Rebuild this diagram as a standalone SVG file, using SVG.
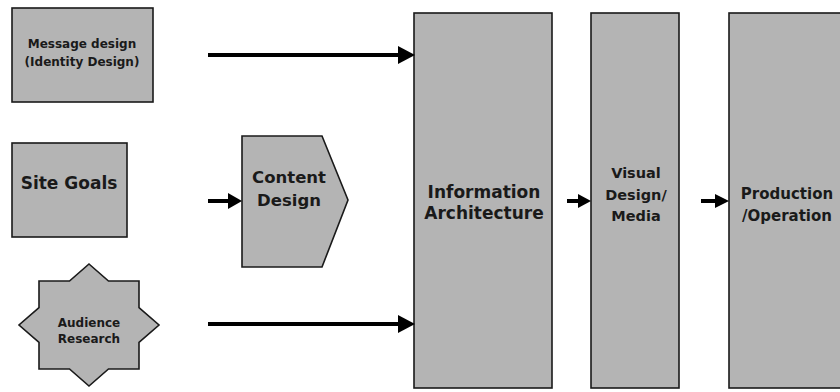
<svg xmlns="http://www.w3.org/2000/svg" width="840" height="392" viewBox="0 0 840 392">
<defs>
<style>
.box{fill:#b4b4b4;stroke:#1a1a1a;stroke-width:1.6}
.t{font-family:"DejaVu Sans",Verdana,sans-serif;font-weight:bold;fill:#1a1a1a;text-anchor:middle}
.conn line{stroke:#000;stroke-width:4}
.conn polygon{fill:#000}
</style>
</defs>
<rect width="840" height="392" fill="#ffffff"/>
<g id="message-design">
<rect class="box" x="12" y="8" width="141" height="94"/>
<text class="t" x="82" y="48" font-size="12">Message design</text>
<text class="t" x="82" y="66" font-size="12">(Identity Design)</text>
</g>
<g id="site-goals">
<rect class="box" x="12" y="143" width="115" height="94"/>
<text class="t" x="69" y="189" font-size="17">Site Goals</text>
</g>
<g id="audience-research">
<polygon class="box" points="89,264 108.5,281 139,281 139,307.6 159,325 139,342.4 139,369 108.5,369 89,386 69.5,369 39,369 39,342.4 19,325 39,307.6 39,281 69.5,281"/>
<text class="t" x="89" y="327" font-size="12">Audience</text>
<text class="t" x="89" y="343" font-size="12">Research</text>
</g>
<g id="content-design">
<polygon class="box" points="242,136 322,136 348,200 322,267 242,267"/>
<text class="t" x="289" y="183" font-size="16.5">Content</text>
<text class="t" x="289" y="206" font-size="16.5">Design</text>
</g>
<g id="information-architecture">
<rect class="box" x="414" y="13" width="138" height="375"/>
<text class="t" x="484" y="198" font-size="17">Information</text>
<text class="t" x="484" y="219" font-size="17">Architecture</text>
</g>
<g id="visual-design">
<rect class="box" x="591" y="13" width="88" height="375"/>
<text class="t" x="636" y="178" font-size="14.5">Visual</text>
<text class="t" x="636" y="200" font-size="14.5">Design/</text>
<text class="t" x="636" y="221" font-size="14.5">Media</text>
</g>
<g id="production">
<rect class="box" x="729" y="13" width="120" height="375"/>
<text class="t" x="787" y="199" font-size="15">Production</text>
<text class="t" x="787" y="221" font-size="15">/Operation</text>
</g>
<g id="connectors" class="conn">
<line x1="208" y1="55" x2="400" y2="55"/>
<polygon points="398,46 415,55 398,64"/>
<line x1="208" y1="201" x2="230" y2="201"/>
<polygon points="228,193 242,201 228,209"/>
<line x1="208" y1="324" x2="400" y2="324"/>
<polygon points="398,315 415,324 398,333"/>
<line x1="567" y1="201" x2="580" y2="201"/>
<polygon points="578,194 591,201 578,208"/>
<line x1="701" y1="201" x2="717" y2="201"/>
<polygon points="715,194 729,201 715,208"/>
</g>
</svg>
